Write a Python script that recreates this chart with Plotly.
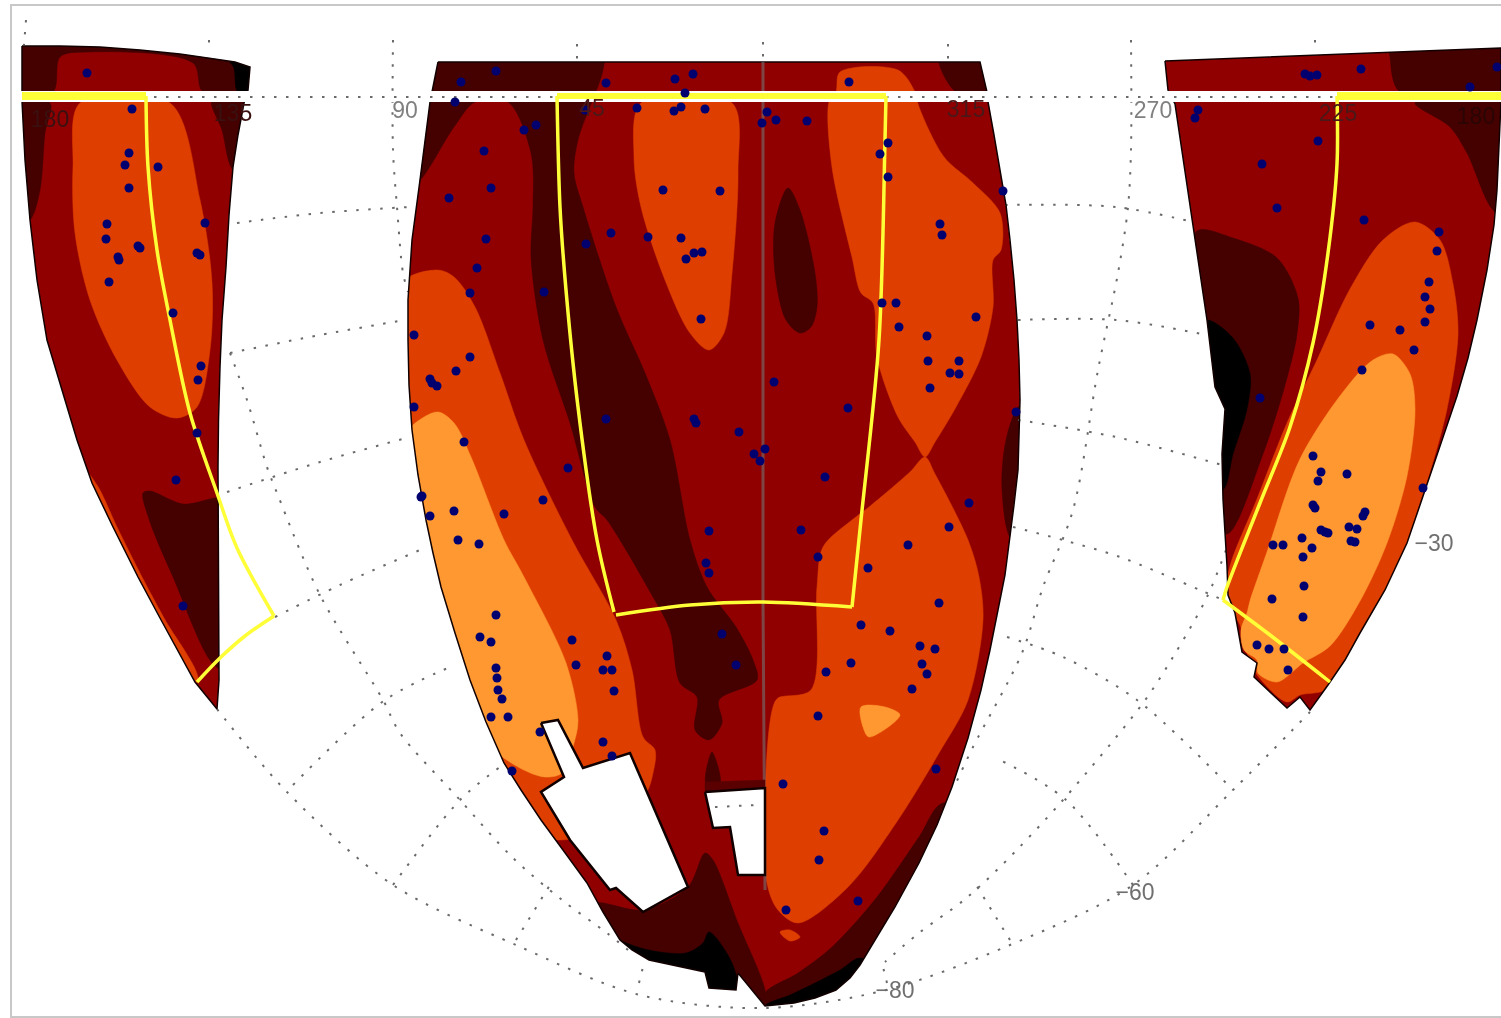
import plotly.graph_objects as go

# ---- palette levels
BLACK, DARK, MAROON, ORANGE, LIGHT = "#000000", "#450000", "#910000", "#de3f00", "#ff9830"
NAVY, YELLOW, GRID = "#00006e", "#ffff38", "#6a6a6a"

# ---- sky wedges (map coordinates)
wedge_left = [(22,46),(60,46),(100,47),(140,50),(180,54),(210,58),(235,62),(250,67),(248,90),(244,103),(238,135),(233,167),(229,215),(226,267),(222,320),(220,367),(218.5,420),(218,467),(219,680),(217,709),(195,682),(160,618),(138,577),(113,527),(100,500),(92,483),(77,440),(63,393),(47,340),(37,280),(30,220),(25,160),(22,101)]
wedge_center = [(438,62),(980,62),(987,92),(988,102),(994,135),(1000,170),(1006,205),(1010,240),(1014,280),(1017,320),(1019,360),(1020,400),(1019,440),(1018,470),(1014,505),(1010,537),(1005,575),(998,610),(990,650),(981,690),(968,738),(952,787),(937,825),(919,863),(895,907),(869,950),(860,965),(850,978),(836,990),(815,998),(794,1003),(765,1006),(738,973),(736,990),(709,988),(705,972),(649,960),(632,950),(620,940),(603,912),(587,883),(563,850),(541,820),(521,790),(504,763),(486,722),(470,680),(455,633),(441,587),(433,553),(426,520),(418,475),(412,430),(409,385),(408,340),(408,300),(412,240),(420,180),(425,140),(430,102),(432,92)]
wedge_right = [(1165,61),(1501,48),(1501,101),(1499,150),(1497,190),(1494,225),(1487,270),(1477,320),(1468,358),(1457,396),(1445,432),(1433,467),(1420,505),(1407,543),(1385,590),(1360,633),(1345,660),(1328,685),(1310,710),(1300,697),(1287,708),(1254,677),(1257,663),(1242,652),(1238,630),(1235,613),(1228,595),(1227,566),(1223,499),(1222,454),(1225,409),(1215,387),(1207,320),(1193,226),(1175,104),(1168,90)]

# ---- contour regions, back to front
left_regions = [
    (DARK, [(10,30),(260,30),(260,80),(250,95),(203,92),(193,63),(87,52),(60,57),(53,92),(10,95)]),
    (BLACK, [(215,50),(260,55),(260,92),(238,92),(233,66)]),
    (DARK, [(10,101),(50,103),(45,133),(40,190),(30,220),(10,230)]),
    (DARK, [(212,100),(260,100),(250,175),(233,170),(222,130)]),
    (ORANGE, [(80,103),(73,167),(75,233),(90,300),(117,360),(150,407),(177,418),(197,407),(210,350),(212,283),(200,200),(170,103)]),
    (DARK, [(143,493),(150,491),(183,504),(230,500),(230,672),(213,664),(173,577),(150,522)]),
    (ORANGE, [(80,465),(97,485),(117,527),(142,577),(164,618),(198,680),(185,690),(130,600),(80,490)]),
]
center_regions = [
    (DARK, [(425,50),(603,50),(603,70),(578,140),(574,173),(583,207),(616,307),(645,373),(670,440),(690,540),(707,587),(736,627),(753,660),(757,680),(719,700),(722,723),(709,740),(695,730),(697,697),(680,683),(670,630),(653,597),(607,520),(595,507),(570,423),(543,340),(531,257),(533,207),(531,153),(508,102),(475,102),(454,127),(415,185),(400,185),(400,60)]),
    (DARK, [(939,55),(995,55),(995,95),(956,92)]),
    (DARK, [(1030,400),(1018,407),(1006,440),(1002,490),(1012,540),(1030,540)]),
    (DARK, [(775,223),(788,188),(800,210),(815,273),(817,307),(811,327),(800,333),(786,320),(775,273)]),
    (DARK, [(712,752),(706,783),(720,783)]),
    (ORANGE, [(641,103),(732,103),(738,173),(732,273),(724,333),(709,350),(690,333),(665,280),(641,207),(634,157)]),
    (ORANGE, [(836,92),(840,72),(898,70),(915,92),(919,107),(944,157),(973,183),(1000,213),(1001,250),(993,260),(993,307),(981,357),(956,407),(935,442),(925,457),(915,442),(898,417),(877,357),(873,303),(861,293),(852,257),(832,167),(829,102)]),
    (ORANGE, [(925,457),(935,474),(968,540),(979,577),(983,620),(968,700),(939,753),(898,820),(848,887),(798,923),(778,910),(767,883),(767,753),(773,707),(778,698),(811,690),(817,587),(823,547),(852,520),(869,507),(910,472)]),
    (LIGHT, [(861,707),(885,707),(900,715),(869,737),(863,727)]),
    (ORANGE, [(780,932),(790,930),(800,937),(790,941)]),
    (ORANGE, [(400,285),(437,270),(454,277),(475,307),(500,373),(524,440),(572,540),(616,620),(632,670),(643,737),(655,750),(653,773),(645,795),(600,830),(560,840),(520,830),(470,720),(400,560)]),
    (LIGHT, [(400,440),(437,412),(454,423),(471,457),(504,540),(524,577),(566,663),(578,720),(574,743),(562,773),(545,777),(520,768),(490,745),(440,640),(400,520)]),
    (DARK, [(595,903),(643,910),(688,887),(705,853),(713,860),(738,923),(765,990),(765,1010),(640,1000),(600,950),(580,915)]),
    (BLACK, [(600,925),(620,940),(649,950),(686,953),(703,943),(709,932),(732,963),(738,1000),(690,1000),(640,985)]),
    (DARK, [(765,993),(798,973),(832,947),(877,897),(919,837),(943,803),(1000,830),(900,1010),(765,1012)]),
    (BLACK, [(765,1006),(790,995),(815,983),(840,970),(860,958),(880,970),(860,1010),(770,1015)]),
]
right_regions = [
    (DARK, [(1390,40),(1510,40),(1510,92),(1400,92),(1390,57)]),
    (DARK, [(1415,103),(1450,127),(1467,153),(1495,212),(1520,217),(1520,100)]),
    (ORANGE, [(1415,222),(1440,240),(1453,284),(1458,334),(1447,409),(1430,472),(1417,512),(1400,570),(1350,660),(1325,690),(1300,695),(1287,702),(1255,672),(1246,650),(1240,625),(1225,600),(1230,566),(1257,499),(1287,423),(1317,360),(1350,289),(1383,240)]),
    (LIGHT, [(1393,354),(1410,374),(1415,409),(1407,476),(1387,543),(1360,601),(1330,646),(1303,663),(1277,682),(1258,673),(1257,660),(1244,650),(1241,630),(1247,613),(1250,601),(1267,552),(1300,459),(1343,392),(1373,360)]),
    (DARK, [(1197,231),(1233,238),(1277,258),(1298,298),(1297,334),(1287,378),(1263,454),(1227,534),(1205,500),(1190,300)]),
    (BLACK, [(1207,320),(1233,338),(1250,374),(1247,409),(1233,454),(1223,490),(1205,490),(1195,330)]),
]

# ---- survey mask holes
cutout_a = [(541,723),(558,720),(583,768),(630,753),(688,887),(643,912),(616,888),(610,890),(570,840),(541,792),(564,777)]
cutout_b = [(705,792),(765,788),(765,875),(738,875),(730,827),(713,828)]
cutout_band = [(705,782),(765,780),(765,790),(705,794)]
cutout_b_grid = [(715,807),(757,805)]

# ---- graticule segments
graticule = [
    [(237,223),(320,213),(410,207)], [(1005,205),(1116,207),(1193,222)],
    [(230,353),(320,335),(405,320)], [(1018,320),(1116,320),(1207,335)],
    [(227,492),(320,462),(410,437)], [(1018,420),(1116,437),(1222,465)],
    [(275,617),(340,585),(420,550)], [(1013,527),(1063,540),(1120,557),(1200,590),(1223,600)],
    [(293,785),(385,700),(455,665)], [(1007,637),(1063,657),(1137,700),(1233,790)],
    [(393,885),(460,800),(500,767)], [(1133,885),(1066,800),(1000,760)],
    [(516,940),(553,880)], [(1010,940),(973,880)],
    [(639,983),(643,967)], [(887,983),(883,967)],
    [(217,709),(287,792),(393,885),(516,945),(640,995),(765,1008),(886,990),(1010,945),(1133,885),(1233,790),(1310,712)],
    [(393,40),(393,150),(397,207),(403,273),(408,292)],
    [(1131,40),(1131,150),(1128,207),(1118,273),(1098,370),(1073,510),(1043,587),(1022,653),(973,747),(956,783)],
    [(230,353),(247,400),(267,467),(277,493),(320,595),(383,700),(400,733),(460,800),(512,857),(562,900),(607,933),(628,950)],
    [(1226,550),(1207,597),(1173,657),(1143,703),(1063,800),(1000,867),(964,900),(919,933),(885,962)],
    [(577,44),(577,62)], [(948,44),(948,62)], [(1315,40),(1315,50)], [(209,40),(209,52)], [(763,42),(763,62)], [(26,20),(24,45)],
]
top_parallel = [(22,97),(1501,97)]
central_meridian = [(763,62),(763,600),(765,890)]

# ---- survey footprint
footprint_bars = [[(22,96),(146,96)], [(557,96),(886,96)], [(1337,96),(1501,96)]]
footprint_sides = [
    [(146,96),(148,167),(157,250),(170,320),(190,413),(217,493),(237,548),(274,616)],
    [(274,616),(245,636),(220,658),(197,682)],
    [(557,96),(560,207),(566,290),(578,407),(597,540),(614,612)],
    [(616,615),(690,605),(763,602),(852,607)],
    [(852,607),(861,520),(879,340),(885,140),(886,96)],
    [(1337,96),(1337,164),(1328,253),(1313,343),(1290,427),(1260,503),(1227,587),(1223,600)],
    [(1223,600),(1270,635),(1330,682)],
]

# ---- objects
dots_x = [87,132,129,125,158,129,107,205,106,138,140,118,119,197,200,109,173,201,198,197,176,183,
          461,496,455,484,491,449,486,477,470,414,470,456,430,432,437,414,464,422,
          606,675,693,685,849,524,536,585,637,674,681,705,767,762,776,807,888,880,888,1003,663,720,940,942,611,648,681,586,702,694,686,544,882,896,976,701,899,927,928,959,950,959,930,774,848,1016,606,694,696,739,765,754,760,568,825,969,543,421,454,430,504,709,801,949,
          458,479,706,709,818,908,868,939,496,861,890,722,480,491,572,920,935,607,576,496,497,498,502,603,612,614,736,851,826,922,927,912,491,508,818,540,603,612,512,936,783,824,819,858,786,
          1497,1470,1361,1305,1310,1317,1198,1195,1318,1262,1277,1364,1439,1437,1429,1425,1430,1425,1370,1400,1414,1362,1260,1313,1321,1318,1347,1423,1313,1315,1365,1363,1321,1325,1328,1349,1357,1351,1355,1302,1273,1283,1312,1303,1304,1272,1303,1257,1269,1284,1288]
dots_y = [73,109,153,165,167,188,224,223,239,246,248,257,260,253,255,282,313,366,380,433,480,606,
          82,71,102,151,188,198,239,268,293,335,357,371,379,383,386,407,442,496,
          83,79,74,93,82,130,125,110,108,111,107,109,112,123,120,121,143,154,177,191,190,191,224,235,233,237,238,244,252,253,259,292,303,303,317,319,327,336,361,361,373,374,388,382,408,412,419,419,423,432,449,454,461,468,477,503,500,497,511,516,514,531,530,527,
          540,544,563,573,557,545,568,603,615,625,631,634,637,642,640,646,649,656,665,668,678,690,699,670,670,691,665,663,672,664,674,689,717,717,716,732,742,756,771,769,784,831,860,901,910,
          67,87,69,74,76,75,110,118,141,164,208,220,232,251,282,297,309,322,325,330,350,370,398,456,472,481,474,488,505,508,512,516,530,532,533,527,529,541,542,538,545,545,548,557,586,599,617,645,649,649,670]

# ---- labels
label_text = ["180","135","90","45","315","270","225","180","\u221230","\u221260","\u221280"]
label_x = [50,233,405,592,966,1153,1338,1476,1434,1135,895]
label_y = [121,115,112,110,111,112,115,118,545,894,992]
label_shade = ["#3a1010","#3a1010","#808080","#4a1818","#4a1818","#808080","#4a1818","#2a0505","#707070","#707070","#707070"]

fig = go.Figure()

def xs(p): return [a for a, _ in p]
def ys(p): return [b for _, b in p]

def fill(p, color, smooth=True):
    fig.add_trace(go.Scatter(x=xs(p)+[p[0][0]], y=ys(p)+[p[0][1]], mode="lines", fill="toself", fillcolor=color,
                             line=dict(width=0.5, color=color, shape="spline" if smooth else "linear", smoothing=0.9),
                             hoverinfo="skip"))

def stroke(p, color, width, dash="solid", smooth=False):
    fig.add_trace(go.Scatter(x=xs(p), y=ys(p), mode="lines",
                             line=dict(width=width, color=color, dash=dash,
                                       shape="spline" if smooth else "linear", smoothing=0.9),
                             hoverinfo="skip"))

def area(p):
    return sum(p[i][0]*p[(i+1) % len(p)][1] - p[(i+1) % len(p)][0]*p[i][1] for i in range(len(p)))

wedges = [wedge_left, wedge_center, wedge_right]
for w in wedges:
    fill(w, MAROON, smooth=False)
for region_set in (left_regions, center_regions, right_regions):
    for color, poly in region_set:
        fill(poly, color)

# white outside the wedges, so contours stay inside them
canvas = [(0,0),(1501,0),(1501,1018),(0,1018)]
mx, my = xs(canvas), ys(canvas)
for w in wedges:
    hole = w if area(w) * area(canvas) < 0 else w[::-1]
    mx += [None] + xs(hole)
    my += [None] + ys(hole)
fig.add_trace(go.Scatter(x=mx, y=my, mode="lines", fill="toself", fillcolor="white",
                         line=dict(width=0, color="white"), hoverinfo="skip"))

for seg in graticule:
    stroke(seg, GRID, 2, dash="2.5px,9.5px", smooth=len(seg) > 2)
for w in wedges:
    stroke(w + w[:1], "#120000", 1.5)

stroke(central_meridian, "rgba(115,115,115,0.6)", 3)
strip_y = 96.5
stroke([(12,strip_y),(1501,strip_y)], "white", 11)
stroke(top_parallel, GRID, 2, dash="2.5px,9.5px")

fill(cutout_band, "#5a0000", smooth=False)
for c in (cutout_a, cutout_b):
    fig.add_trace(go.Scatter(x=xs(c)+[c[0][0]], y=ys(c)+[c[0][1]], mode="lines", fill="toself", fillcolor="white",
                             line=dict(width=2.5, color="#100000"), hoverinfo="skip"))
stroke(cutout_b_grid, GRID, 2, dash="2.5px,9.5px")

for bar, width in zip(footprint_bars, (8, 6, 8)):
    stroke(bar, YELLOW, width)
for seg in footprint_sides:
    stroke(seg, YELLOW, 3.5, smooth=True)

fig.add_trace(go.Scatter(x=dots_x, y=dots_y, mode="markers",
                         marker=dict(size=9, color=NAVY, line=dict(width=0)), hoverinfo="skip"))
fig.add_trace(go.Scatter(x=label_x, y=label_y, mode="text", text=label_text, textposition="middle center",
                         textfont=dict(family="Liberation Sans", size=23, color=label_shade), hoverinfo="skip"))

fig.update_layout(width=1501, height=1018, margin=dict(l=0, r=0, t=0, b=0), showlegend=False,
                  paper_bgcolor="white", plot_bgcolor="white",
                  xaxis=dict(range=[0,1501], visible=False, fixedrange=True),
                  yaxis=dict(range=[1018,0], visible=False, fixedrange=True),
                  shapes=[dict(type="rect", xref="x", yref="y", x0=11, x1=1520, y0=5, y1=1017,
                               line=dict(color="#c8c8c8", width=2), layer="above")])

fig.write_html("out.html", config=dict(displayModeBar=False),
               post_script="document.body.style.margin='0';document.body.style.overflow='hidden';"
                           "document.querySelector('.main-svg').parentNode.style.filter='blur(0.7px)';")
